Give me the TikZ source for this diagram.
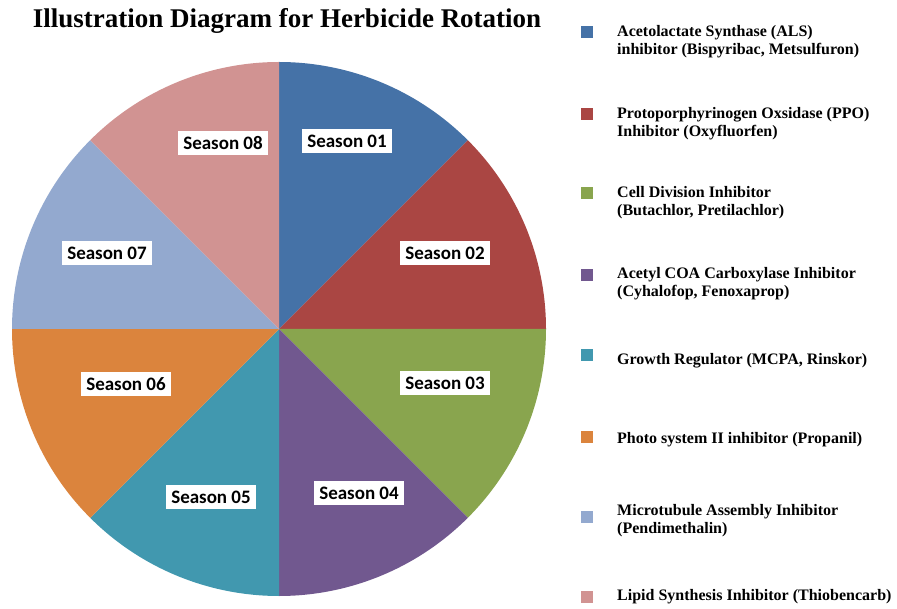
\documentclass[tikz,border=0pt]{standalone}
\usepackage{fontspec}
\setmainfont{Liberation Serif}
\newfontfamily\labelfont{Carlito}
\usetikzlibrary{positioning}

\definecolor{als}{HTML}{4572A7}
\definecolor{ppo}{HTML}{AA4643}
\definecolor{celldiv}{HTML}{89A54E}
\definecolor{acc}{HTML}{71588F}
\definecolor{growth}{HTML}{4198AF}
\definecolor{photo}{HTML}{DB843D}
\definecolor{micro}{HTML}{93A9CF}
\definecolor{lipid}{HTML}{D19392}

\begin{document}
\begin{tikzpicture}[
        x=1pt, y=-1pt,
        season/.style={fill=white, font=\labelfont\bfseries\fontsize{19}{19}\selectfont, inner xsep=5pt, inner ysep=5.5pt},
        key/.style={minimum size=12pt, inner sep=0pt},
        entry/.style={anchor=north west, align=left, inner sep=0pt, font=\bfseries\fontsize{16}{18}\selectfont}
    ]
    \useasboundingbox (0,0) rectangle (897,609);

    % Title
    \node[font=\bfseries\fontsize{27}{30}\selectfont, anchor=base] (title) at (287,28) {Illustration Diagram for Herbicide Rotation};

    % Pie - one slice per season
    \coordinate (O) at (279,329);
    \foreach \c [count=\i] in {als,ppo,celldiv,acc,growth,photo,micro,lipid} {
        \fill[\c] (O) -- ++(-135+45*\i:267) arc[start angle=-135+45*\i, end angle=-90+45*\i, radius=267] -- cycle;
    }

    % Season labels
    \node[season] (s1) at (347,141) {Season 01};
    \node[season] (s2) at (445,253) {Season 02};
    \node[season] (s3) at (445,383) {Season 03};
    \node[season] (s4) at (359,493) {Season 04};
    \node[season] (s5) at (211,497) {Season 05};
    \node[season] (s6) at (126,384) {Season 06};
    \node[season] (s7) at (107,253) {Season 07};
    \node[season] (s8) at (223,143) {Season 08};

    % Legend
    \node[key, fill=als] (k1) at (587,32) {};
    \node[key, fill=ppo] (k2) at (587,114) {};
    \node[key, fill=celldiv] (k3) at (587,193) {};
    \node[key, fill=acc] (k4) at (587,275) {};
    \node[key, fill=growth] (k5) at (587,355) {};
    \node[key, fill=photo] (k6) at (587,437) {};
    \node[key, fill=micro] (k7) at (587,517) {};
    \node[key, fill=lipid] (k8) at (587,597) {};

    \node[entry] (t1) at (617,25) {Acetolactate Synthase (ALS)\\inhibitor (Bispyribac, Metsulfuron)};
    \node[entry] (t2) at (617,107) {Protoporphyrinogen Oxsidase (PPO)\\Inhibitor (Oxyfluorfen)};
    \node[entry] (t3) at (617,186) {Cell Division Inhibitor\\(Butachlor, Pretilachlor)};
    \node[entry] (t4) at (617,267) {Acetyl COA Carboxylase Inhibitor\\(Cyhalofop, Fenoxaprop)};
    \node[entry] (t5) at (617,353) {Growth Regulator (MCPA, Rinskor)};
    \node[entry] (t6) at (617,432) {Photo system II inhibitor (Propanil)};
    \node[entry] (t7) at (617,504) {Microtubule Assembly Inhibitor\\(Pendimethalin)};
    \node[entry] (t8) at (617,589) {Lipid Synthesis Inhibitor (Thiobencarb)};
\end{tikzpicture}
\end{document}
